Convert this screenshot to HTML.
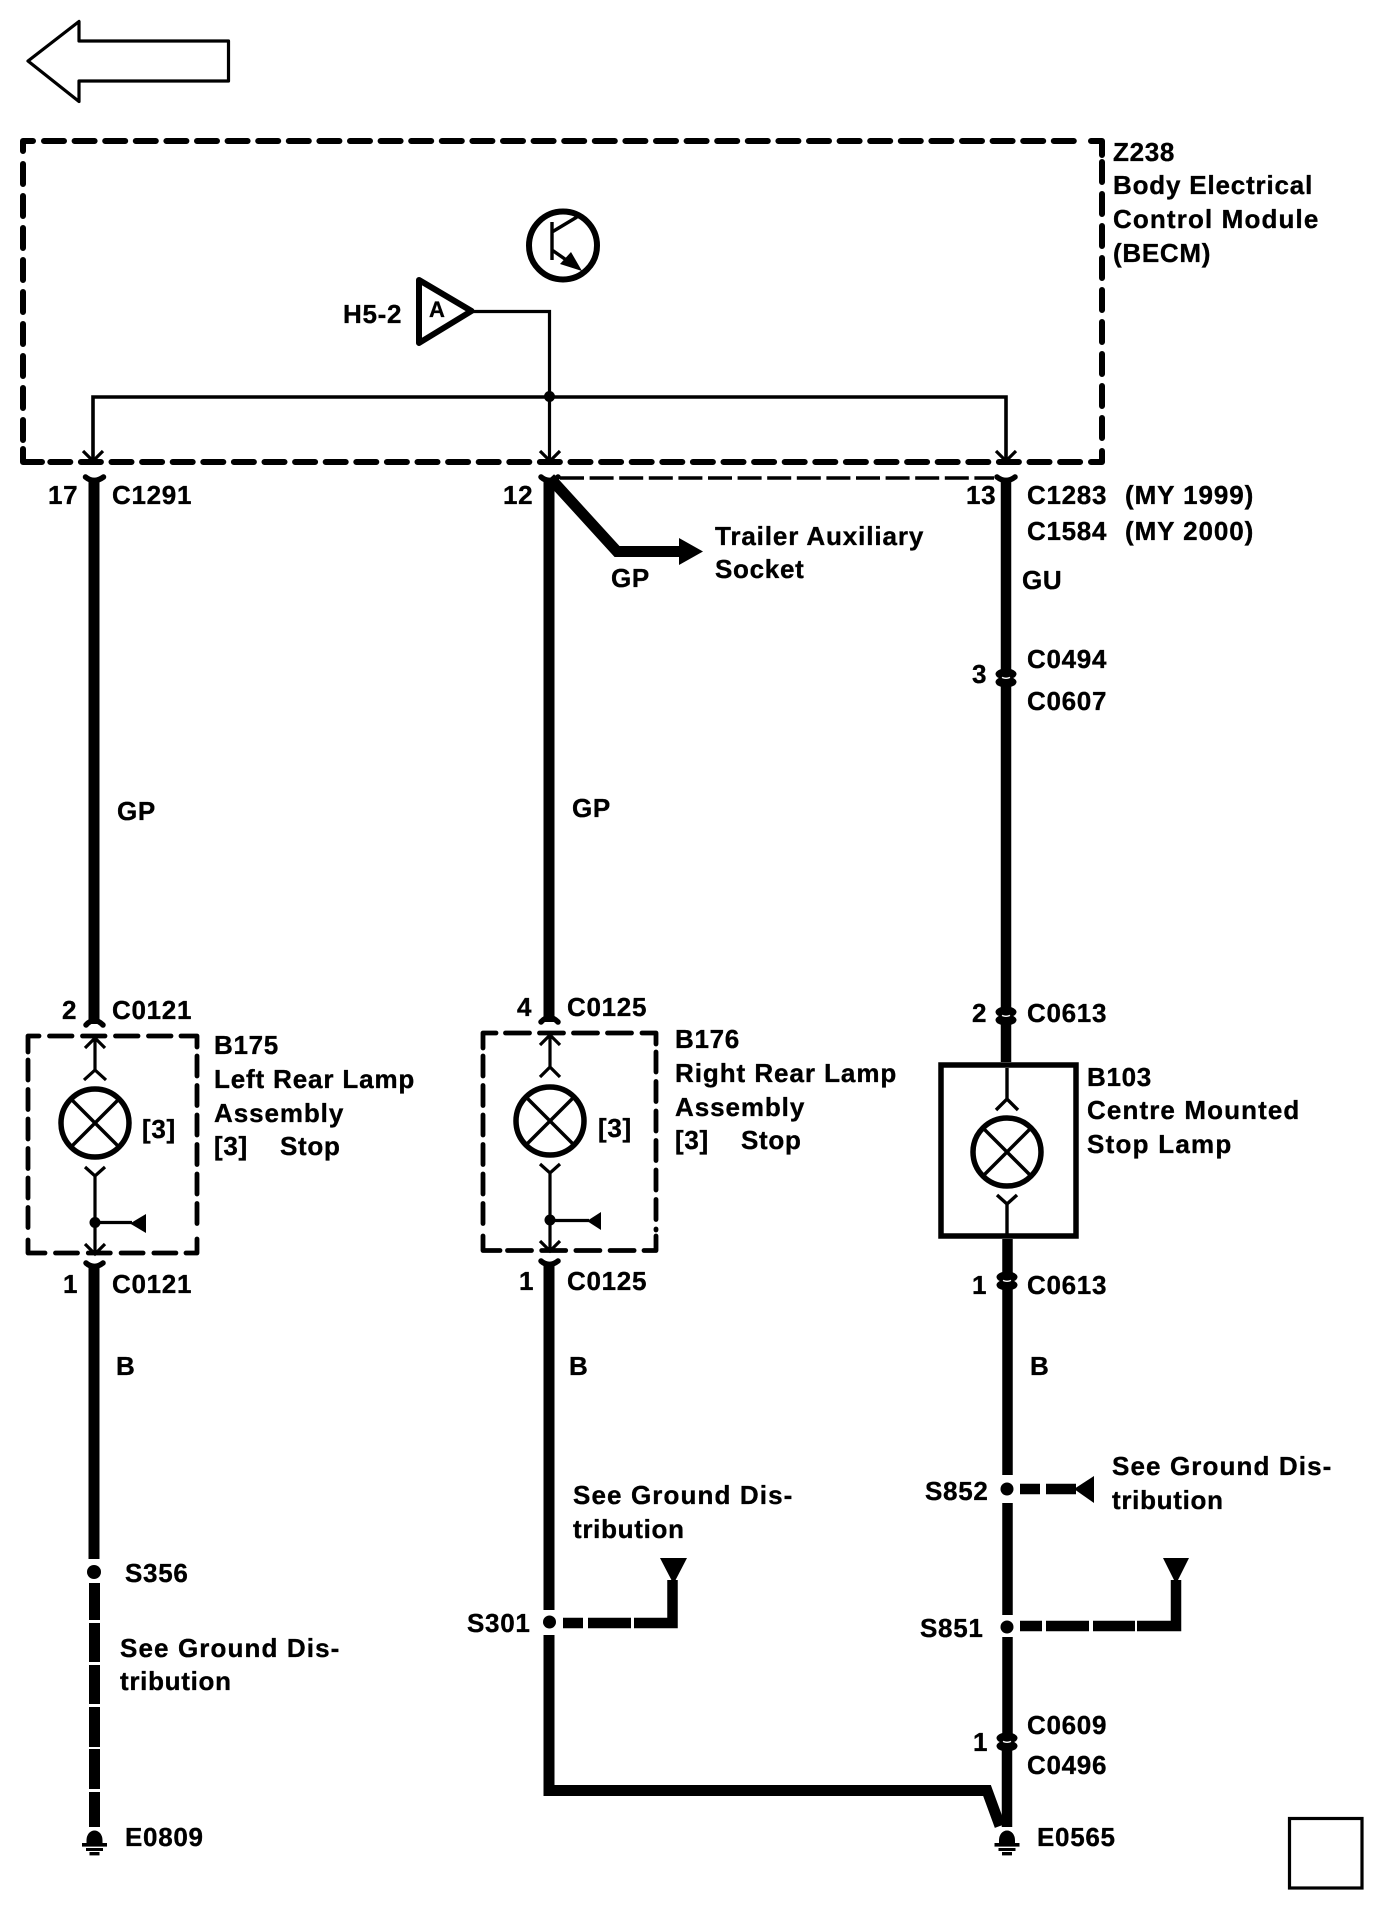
<!DOCTYPE html>
<html>
<head>
<meta charset="utf-8">
<style>
html,body{margin:0;padding:0;background:#fff}
svg{display:block}
text{font-family:"Liberation Sans",sans-serif;font-weight:700;font-size:26px;fill:#000;letter-spacing:.7px;stroke:#000;stroke-width:.35px}
</style>
</head>
<body>
<svg width="1392" height="1906" viewBox="0 0 1392 1906" xmlns="http://www.w3.org/2000/svg">
<rect width="1392" height="1906" fill="#fff"/>
<defs>
<g id="lamp" fill="none" stroke="#000">
  <circle cx="0" cy="0" r="34" stroke-width="5.5" fill="#fff"/>
  <path d="M-23,-23L23,23M23,-23L-23,23" stroke-width="3.5"/>
</g>
<g id="gnd">
  <path d="M-8,14.5 V10 A8,9.5 0 0 1 8,10 V14.5 Z" fill="#000"/>
  <rect x="-12.5" y="13" width="25" height="3.6"/>
  <rect x="-8.5" y="18" width="17" height="3"/>
  <rect x="-5" y="22" width="10" height="3.4"/>
</g>
<g id="conn">
  <ellipse cx="0" cy="-4" rx="10.5" ry="5.5"/>
  <ellipse cx="0" cy="4" rx="10.5" ry="5.5"/>
  <rect x="-5.5" y="-2.4" width="11" height="4.8"/>
  <path d="M-4,-0.6 Q0,1.2 4,-0.6" fill="none" stroke="#fff" stroke-width="1.4"/>
</g>
</defs>

<!-- top arrow -->
<path d="M28,61 L79,21.5 L79,41 L228.5,41 L228.5,81 L79,81 L79,101.5 Z" fill="#fff" stroke="#000" stroke-width="3.2" stroke-linejoin="round"/>

<!-- module dashed box -->
<g fill="none" stroke="#000" stroke-width="6" stroke-linecap="round" stroke-linejoin="round">
  <path d="M33,141 H23 V151"/>
  <path d="M44,141 H1080" stroke-dasharray="20 10.6"/>
  <path d="M1091,141 H1102 V155"/>
  <path d="M23,164 V442" stroke-dasharray="20 12"/>
  <path d="M1102,162 V442" stroke-dasharray="20 12"/>
  <path d="M23,449 V462 H42"/>
  <path d="M50.3,462 H1085" stroke-dasharray="20 10.6"/>
  <path d="M1091,462 H1102 V451"/>
</g>

<!-- transistor -->
<circle cx="563" cy="245.5" r="34" fill="none" stroke="#000" stroke-width="6"/>
<path d="M552,222V260M552,232L577,217M552,250L572,264" fill="none" stroke="#000" stroke-width="3.4"/>
<path d="M582,271L560,264L571,252Z" fill="#000"/>

<!-- H5-2 off-page -->
<path d="M419,280 L471.5,311 L419,343 Z" fill="#fff" stroke="#000" stroke-width="6" stroke-linejoin="round"/>

<!-- thin logic wires -->
<g fill="none" stroke="#000" stroke-width="3.2">
  <path d="M473,311.5H549.5V459"/>
  <path d="M93,459V397H1006V459" stroke-width="3.6"/>
  <path d="M83,451L93,461L103,451M540,451L550,461L560,451M996,451L1006,461L1016,451"/>
</g>
<circle cx="549.5" cy="396.5" r="5.5"/>

<!-- dashed link between 12 and 13 -->
<path d="M560,478 H994" stroke="#000" stroke-width="3.4" stroke-dasharray="24 5.6" fill="none"/>

<!-- thick wire left -->
<g stroke="#000" stroke-width="11" fill="none">
  <path d="M94,478V1024"/>
  <path d="M94,1265V1559"/>
  <path d="M94.5,1583V1620M94.5,1623V1662M94.5,1665V1704M94.5,1707V1747M94.5,1749V1789M94.5,1792V1827"/>
</g>
<!-- thick wire middle -->
<g stroke="#000" stroke-width="11" fill="none">
  <path d="M549,478V1022"/>
  <path d="M549,1262V1610"/>
  <path d="M549,1635V1790.5H987L1000,1826" stroke-linejoin="miter"/>
</g>
<path d="M550,478L617,551.5H680" fill="none" stroke="#000" stroke-width="11"/>
<path d="M679,538L703,551.5L679,565Z"/>
<!-- thick wire right -->
<g stroke="#000" stroke-width="10.5" fill="none">
  <path d="M1006,478V672M1006,685V1062"/>
  <path d="M1007.5,1239V1274M1007.5,1288V1475M1007.5,1503V1615M1007.5,1637V1735M1007,1750V1827"/>
</g>

<!-- connector Ys -->
<g fill="none" stroke="#000" stroke-width="5.5" stroke-linecap="round" stroke-linejoin="round">
  <path d="M85.5,477Q94,484 103.5,477"/>
  <path d="M541,477Q549,484 558,477"/>
  <path d="M997,477Q1006,484 1015,477"/>
  <path d="M86,1025Q94,1016 103,1025"/>
  <path d="M541,1022Q549,1013 558,1022"/>
  <path d="M86,1263Q94,1270 103,1263"/>
  <path d="M541,1261Q549,1268 558,1261"/>
</g>

<!-- inline connectors -->
<use href="#conn" x="1006" y="678"/>
<use href="#conn" x="1006" y="1016"/>
<use href="#conn" x="1007" y="1281"/>
<use href="#conn" x="1007" y="1742"/>

<!-- B175 -->
<g fill="none" stroke="#000" stroke-width="4.8" stroke-linecap="round" stroke-linejoin="round">
  <path d="M39,1036H28V1052"/>
  <path d="M181,1036H197V1047"/>
  <path d="M28,1240V1253H45"/>
  <path d="M197,1239V1253H186"/>
  <path d="M49.5,1036H180" stroke-dasharray="22.5 10.5"/>
  <path d="M55.5,1253H180" stroke-dasharray="22 10.8"/>
  <path d="M28,1060V1233" stroke-dasharray="20 9.5"/>
  <path d="M197,1056V1233" stroke-dasharray="20 9.5"/>
</g>
<g fill="none" stroke="#000" stroke-width="3.2">
  <path d="M95,1038V1070M85,1048L95,1038L105,1048M84,1080L95,1070L106,1080"/>
  <path d="M85,1167L95,1176L105,1167M95,1176V1252M85,1244L95,1254L105,1244M95,1222.5H132"/>
</g>
<path d="M130,1223.5L146,1214V1233Z"/>
<circle cx="95" cy="1222.5" r="5.5"/>
<use href="#lamp" x="95" y="1123"/>

<!-- B176 -->
<g fill="none" stroke="#000" stroke-width="4.8" stroke-linecap="round" stroke-linejoin="round">
  <path d="M496,1033H483V1048"/>
  <path d="M642,1033H656V1044"/>
  <path d="M483,1236V1250.5H500"/>
  <path d="M656,1236V1250.5H644"/>
  <path d="M505.5,1033H636" stroke-dasharray="24 10"/>
  <path d="M507.5,1250.5H640" stroke-dasharray="24 10.2"/>
  <path d="M483,1056V1230" stroke-dasharray="20 9.5"/>
  <path d="M656,1052V1230" stroke-dasharray="20 9.5"/>
</g>
<g fill="none" stroke="#000" stroke-width="3.2">
  <path d="M550,1035V1067M540,1045L550,1035L560,1045M540,1077L550,1067L560,1077"/>
  <path d="M540,1164L550,1173L560,1164M550,1173V1249M540,1241L550,1251L560,1241M550,1220.5H589"/>
</g>
<path d="M587,1221L601,1212V1230Z"/>
<circle cx="550" cy="1220" r="5.5"/>
<use href="#lamp" x="550" y="1121"/>

<!-- B103 -->
<rect x="941" y="1065" width="135" height="171" fill="none" stroke="#000" stroke-width="5.5"/>
<g fill="none" stroke="#000" stroke-width="3.4">
  <path d="M1007,1068V1099M996,1110L1007,1099L1018,1110"/>
  <path d="M997,1195L1007,1204L1017,1195M1007,1204V1236"/>
</g>
<use href="#lamp" x="1007" y="1152"/>

<!-- splices -->
<circle cx="94" cy="1572" r="7"/>
<circle cx="549.5" cy="1622" r="6.5"/>
<circle cx="1007" cy="1489" r="6.5"/>
<circle cx="1007" cy="1627" r="6.5"/>

<!-- ground branches -->
<g stroke="#000" stroke-width="10.5" fill="none">
  <path d="M563,1623H583M588,1623H631M634,1623H672.5V1580"/>
  <path d="M1020,1489H1040M1046,1489H1076"/>
  <path d="M1020,1626H1042M1046,1626H1089M1093,1626H1135M1137,1626H1176V1580"/>
</g>
<path d="M660,1558H687L673.5,1584Z"/>
<path d="M1163,1558H1189L1176,1584Z"/>
<path d="M1074,1489L1094,1476V1503Z"/>

<!-- grounds -->
<use href="#gnd" x="94.5" y="1830"/>
<use href="#gnd" x="1007" y="1830"/>

<!-- square -->
<rect x="1289.5" y="1818.5" width="72.5" height="69.5" fill="none" stroke="#000" stroke-width="3.2"/>

<!-- labels -->
<g transform="translate(-1,0)">
<text x="430" y="317" style="font-size:22px;letter-spacing:0">A</text>
<text x="344" y="323">H5-2</text>
<text x="1114" y="161">Z238</text>
<text x="1114" y="194" textLength="200" lengthAdjust="spacing">Body Electrical</text>
<text x="1114" y="228" textLength="206" lengthAdjust="spacing">Control Module</text>
<text x="1114" y="262">(BECM)</text>

<text x="49" y="504">17</text>
<text x="113" y="504">C1291</text>
<text x="504" y="504">12</text>
<text x="967" y="504">13</text>
<text x="1028" y="504">C1283</text>
<text x="1126" y="504" textLength="129" lengthAdjust="spacing">(MY 1999)</text>
<text x="1028" y="540">C1584</text>
<text x="1126" y="540" textLength="129" lengthAdjust="spacing">(MY 2000)</text>
<text x="1023" y="589">GU</text>
<text x="716" y="545" textLength="209" lengthAdjust="spacing">Trailer Auxiliary</text>
<text x="716" y="578">Socket</text>
<text x="612" y="587">GP</text>
<text x="1028" y="668">C0494</text>
<text x="973" y="683">3</text>
<text x="1028" y="710">C0607</text>
<text x="118" y="820">GP</text>
<text x="573" y="817">GP</text>

<text x="63" y="1019">2</text>
<text x="113" y="1019">C0121</text>
<text x="518" y="1016">4</text>
<text x="568" y="1016">C0125</text>
<text x="973" y="1022">2</text>
<text x="1028" y="1022">C0613</text>

<text x="215" y="1054">B175</text>
<text x="215" y="1088" textLength="201" lengthAdjust="spacing">Left Rear Lamp</text>
<text x="215" y="1122" textLength="130" lengthAdjust="spacing">Assembly</text>
<text x="215" y="1155">[3]</text>
<text x="281" y="1155">Stop</text>
<text x="143" y="1138">[3]</text>

<text x="676" y="1048">B176</text>
<text x="676" y="1082" textLength="222" lengthAdjust="spacing">Right Rear Lamp</text>
<text x="676" y="1116" textLength="130" lengthAdjust="spacing">Assembly</text>
<text x="676" y="1149">[3]</text>
<text x="742" y="1149">Stop</text>
<text x="599" y="1137">[3]</text>

<text x="1088" y="1086">B103</text>
<text x="1088" y="1119" textLength="213" lengthAdjust="spacing">Centre Mounted</text>
<text x="1088" y="1153" textLength="145" lengthAdjust="spacing">Stop Lamp</text>

<text x="64" y="1293">1</text>
<text x="113" y="1293">C0121</text>
<text x="520" y="1290">1</text>
<text x="568" y="1290">C0125</text>
<text x="973" y="1294">1</text>
<text x="1028" y="1294">C0613</text>

<text x="117" y="1375">B</text>
<text x="570" y="1375">B</text>
<text x="1031" y="1375">B</text>

<text x="1113" y="1475" textLength="220" lengthAdjust="spacing">See Ground Dis-</text>
<text x="1113" y="1509">tribution</text>
<text x="926" y="1500">S852</text>
<text x="574" y="1504" textLength="220" lengthAdjust="spacing">See Ground Dis-</text>
<text x="574" y="1538">tribution</text>
<text x="468" y="1632">S301</text>
<text x="921" y="1637">S851</text>
<text x="126" y="1582">S356</text>
<text x="121" y="1657" textLength="220" lengthAdjust="spacing">See Ground Dis-</text>
<text x="121" y="1690">tribution</text>
<text x="1028" y="1734">C0609</text>
<text x="974" y="1751">1</text>
<text x="1028" y="1774">C0496</text>
<text x="126" y="1846">E0809</text>
<text x="1038" y="1846">E0565</text>
</g>
</svg>
</body>
</html>
